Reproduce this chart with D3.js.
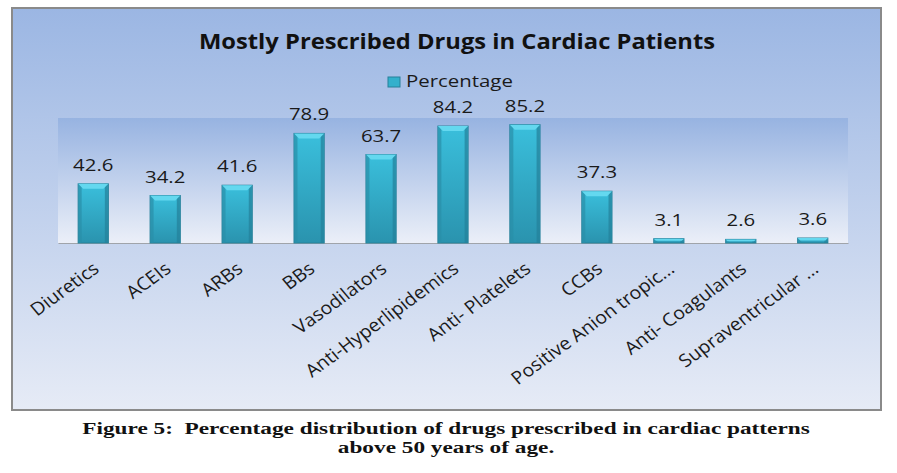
<!DOCTYPE html>
<html>
<head>
<meta charset="utf-8">
<script src="https://cdn.jsdelivr.net/npm/d3@7"></script>
<style>
  body { margin: 0; background: #fff; }
  .sans { font-family: "Open Sans", "Noto Sans", sans-serif; }
  .serif { font-family: "Liberation Serif", "DejaVu Serif", serif; }
</style>
</head>
<body>
<div id="chart"></div>
<script>
// chart data
const categories = ["Diuretics", "ACEIs", "ARBs", "BBs", "Vasodilators", "Anti-Hyperlipidemics",
  "Anti- Platelets", "CCBs", "Positive Anion tropic...", "Anti- Coagulants", "Supraventricular ..."];
const percentages = [42.6, 34.2, 41.6, 78.9, 63.7, 84.2, 85.2, 37.3, 3.1, 2.6, 3.6];
const seriesName = "Percentage";
const chartTitle = "Mostly Prescribed Drugs in Cardiac Patients";
const captionLines = ["Figure 5:  Percentage distribution of drugs prescribed in cardiac patterns",
  "above 50 years of age."];

const W = 897, H = 473;
const frame = { x: 12, y: 8, w: 869, h: 402 };
const plot = { left: 58, right: 848, top: 118, bottom: 243 };
const stretch = 1.2; // text in the picture is wider than normal

const svg = d3.select("#chart")
  .append("svg")
  .attr("width", W)
  .attr("height", H);

const defs = svg.append("defs");

// outer background gradient
const bg = defs.append("linearGradient").attr("id", "bg").attr("x1", 0).attr("y1", 0).attr("x2", 0).attr("y2", 1);
bg.append("stop").attr("offset", "0%").attr("stop-color", "#9bb6e3");
bg.append("stop").attr("offset", "100%").attr("stop-color", "#e6ebf6");

// plot area gradient
const pg = defs.append("linearGradient").attr("id", "pg").attr("x1", 0).attr("y1", 0).attr("x2", 0).attr("y2", 1);
pg.append("stop").attr("offset", "0%").attr("stop-color", "#97b3e1");
pg.append("stop").attr("offset", "100%").attr("stop-color", "#ebeff8");

// bar body gradient
const barG = defs.append("linearGradient").attr("id", "barG").attr("x1", 0).attr("y1", 0).attr("x2", 0).attr("y2", 1);
barG.append("stop").attr("offset", "0%").attr("stop-color", "#3abfdc");
barG.append("stop").attr("offset", "100%").attr("stop-color", "#2a93ae");

svg.append("rect")
  .attr("x", frame.x).attr("y", frame.y)
  .attr("width", frame.w).attr("height", frame.h)
  .attr("fill", "url(#bg)")
  .attr("stroke", "#8a8a8a")
  .attr("stroke-width", 2);

svg.append("rect")
  .attr("x", plot.left).attr("y", plot.top)
  .attr("width", plot.right - plot.left).attr("height", plot.bottom - plot.top)
  .attr("fill", "url(#pg)");

// scales
const x = d3.scaleBand()
  .domain(categories)
  .range([plot.left, plot.right])
  .paddingInner(0.58)
  .paddingOuter(0.28);

const y = d3.scaleLinear()
  .domain([0, 90])
  .range([plot.bottom, plot.top]);

// baseline axis
svg.append("g")
  .attr("transform", "translate(0," + plot.bottom + ")")
  .call(d3.axisBottom(x).tickSize(0).tickFormat(""))
  .call(g => g.select(".domain").attr("stroke", "#a0a4aa").attr("stroke-width", 1.2));

const rows = categories.map((c, i) => ({ name: c, value: percentages[i] }));
const bw = x.bandwidth();
const bev = 5;

const bars = svg.append("g").selectAll("g")
  .data(rows)
  .enter()
  .append("g");

// body
bars.append("rect")
  .attr("x", d => x(d.name))
  .attr("y", d => y(d.value))
  .attr("width", bw)
  .attr("height", d => y(0) - y(d.value))
  .attr("fill", "url(#barG)")
  .attr("stroke", "#27809a")
  .attr("stroke-width", 1);

// side bevels
bars.append("rect")
  .attr("x", d => x(d.name) + 0.5)
  .attr("y", d => y(d.value))
  .attr("width", 3)
  .attr("height", d => y(0) - y(d.value))
  .attr("fill", "#2a8ea8")
  .attr("opacity", 0.7);
bars.append("rect")
  .attr("x", d => x(d.name) + bw - 3.5)
  .attr("y", d => y(d.value))
  .attr("width", 3)
  .attr("height", d => y(0) - y(d.value))
  .attr("fill", "#23809a")
  .attr("opacity", 0.7);

// top bevel
bars.append("polygon")
  .attr("points", d => {
    const x0 = x(d.name), y0 = y(d.value);
    const h = Math.min(bev, (y(0) - y0) / 2);
    return [[x0, y0], [x0 + bw, y0], [x0 + bw - h, y0 + h], [x0 + h, y0 + h]].join(" ");
  })
  .attr("fill", "#64d8ef");

// value labels
bars.append("text")
  .attr("class", "sans")
  .attr("transform", d => "translate(" + (x(d.name) + bw / 2) + "," + (y(d.value) - 13) + ") scale(" + stretch + ",1)")
  .attr("text-anchor", "middle")
  .attr("font-size", 17)
  .attr("fill", "#1a1a1a")
  .text(d => d.value.toFixed(1));

// category labels
svg.append("g").selectAll("text")
  .data(categories)
  .enter()
  .append("text")
  .attr("class", "sans")
  .attr("transform", d => "translate(" + (x(d) + bw / 2 + 7) + ",271) scale(1.08,1) rotate(-38)")
  .attr("text-anchor", "end")
  .attr("font-size", 18)
  .attr("fill", "#1a1a1a")
  .text(d => d);

// title
svg.append("text")
  .attr("class", "sans")
  .attr("transform", "translate(457,49) scale(1.08,1)")
  .attr("text-anchor", "middle")
  .attr("font-size", 22)
  .attr("font-weight", "bold")
  .attr("fill", "#111")
  .text(chartTitle);

// legend
svg.append("rect")
  .attr("x", 388).attr("y", 77)
  .attr("width", 12).attr("height", 10)
  .attr("fill", "#33b0cc")
  .attr("stroke", "#27809a");
svg.append("text")
  .attr("class", "sans")
  .attr("transform", "translate(406,87) scale(" + stretch + ",1)")
  .attr("font-size", 17)
  .attr("fill", "#1a1a1a")
  .text(seriesName);

// caption
svg.append("g").selectAll("text")
  .data(captionLines)
  .enter()
  .append("text")
  .attr("class", "serif")
  .attr("transform", (d, i) => "translate(446," + (433.5 + i * 19.5) + ") scale(1.33,1)")
  .attr("text-anchor", "middle")
  .attr("font-weight", "bold")
  .attr("font-size", 17.5)
  .attr("fill", "#111")
  .style("white-space", "pre")
  .text(d => d);
</script>
</body>
</html>
